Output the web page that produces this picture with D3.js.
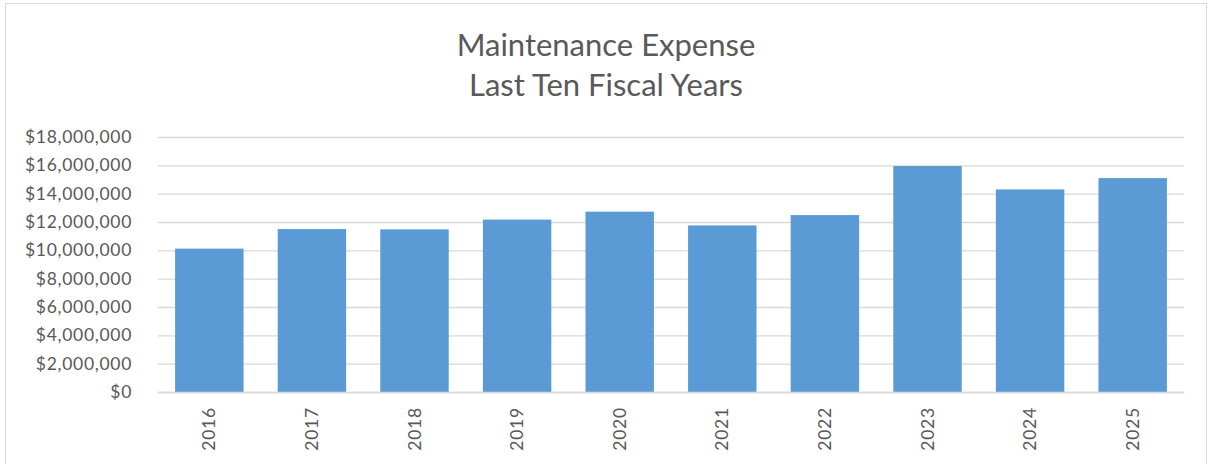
<!DOCTYPE html>
<html><head><meta charset="utf-8">
<script src="https://cdn.jsdelivr.net/npm/d3@7"></script>
<style>body{margin:0;background:#fff;} text{font-family:Lato,"Open Sans",sans-serif;fill:#595959;}</style>
</head><body>
<svg id="c" width="1211" height="464"></svg>
<script>
const years = ["2016","2017","2018","2019","2020","2021","2022","2023","2024","2025"];
const expense = [10120000,11500000,11480000,12170000,12730000,11760000,12490000,15950000,14300000,15100000];
const yTicks = [0,2000000,4000000,6000000,8000000,10000000,12000000,14000000,16000000,18000000];
const titleLines = ["Maintenance Expense","Last Ten Fiscal Years"];

const svg = d3.select("#c");
const W = 1211, H = 464;
const m = {left:158, right:1184, top:137, bottom:392};

svg.append("rect").attr("x",5.5).attr("y",3.5).attr("width",W-10).attr("height",H).attr("fill","#fff").attr("stroke","#d9d9d9");

const x = d3.scaleBand().domain(years).range([m.left,m.right]).paddingInner(0.333).paddingOuter(0.1667);
const y = d3.scaleLinear().domain([0,18000000]).range([m.bottom,m.top]);

const fmt = v => "$" + d3.format(",")(v);

const gy = svg.append("g").attr("transform",`translate(${m.left},0)`)
  .call(d3.axisLeft(y).tickValues(yTicks).tickFormat(fmt).tickSize(-(m.right-m.left)).tickPadding(26));
gy.select(".domain").remove();
gy.selectAll(".tick line").attr("stroke","#d9d9d9").attr("stroke-width",1.3);
gy.selectAll(".tick text").attr("font-size","17.5px").attr("letter-spacing","0.7px").style("fill","#595959");

svg.selectAll(".bar").data(years).enter().append("rect")
  .attr("x",d=>x(d)).attr("width",x.bandwidth())
  .attr("y",(d,i)=>y(expense[i])).attr("height",(d,i)=>m.bottom-y(expense[i]))
  .attr("fill","#5b9bd5");

const gx = svg.append("g").attr("transform",`translate(0,${m.bottom})`)
  .call(d3.axisBottom(x).tickSize(0).tickPadding(0));
gx.select(".domain").attr("stroke","#d9d9d9").attr("stroke-width",1.3);
gx.selectAll(".tick text").attr("font-size","17.5px").attr("letter-spacing","0.8px").style("fill","#595959")
  .attr("transform","translate(0,15) rotate(-90)").attr("text-anchor","end").attr("dy","0.35em").attr("x",0).attr("y",0);

svg.append("g").selectAll("text").data(titleLines).enter().append("text")
  .attr("x",606).attr("y",(d,i)=>56+i*40).attr("text-anchor","middle")
  .attr("font-size","31px").text(d=>d);
</script>
</body></html>
